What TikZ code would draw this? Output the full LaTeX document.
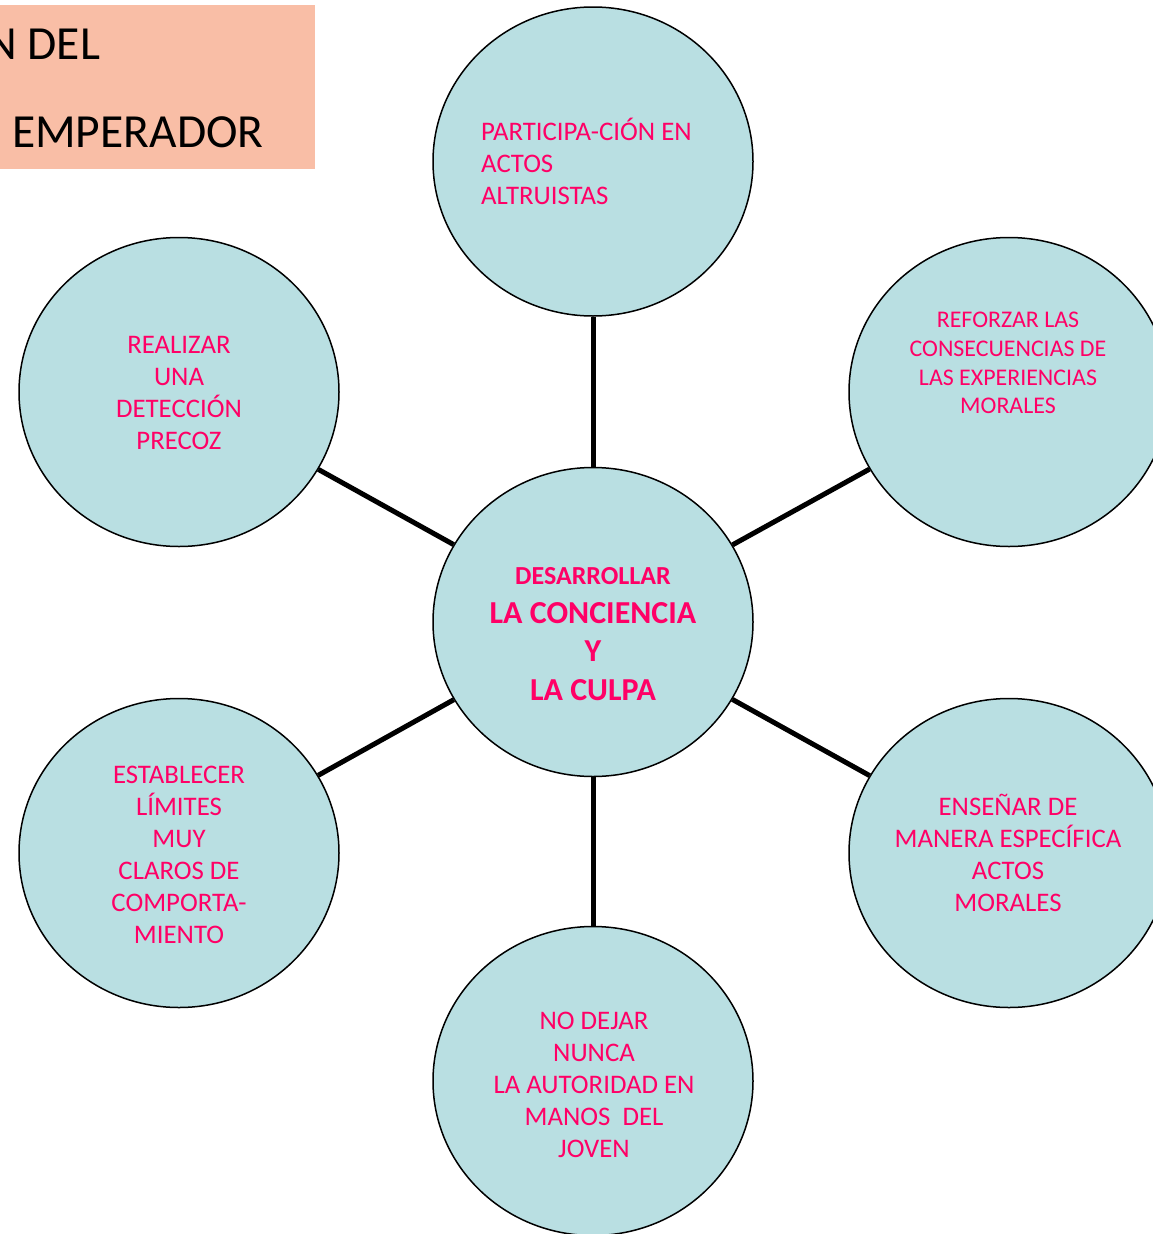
\documentclass[tikz,border=0pt]{standalone}
\usepackage{fontspec}
\setmainfont{Carlito}
\usetikzlibrary{shapes.geometric}
\definecolor{bubble}{RGB}{185,223,226}
\definecolor{txtpink}{RGB}{255,0,102}
\definecolor{titlebg}{RGB}{249,190,166}
\tikzset{
  bubble/.style={ellipse, draw=black, line width=1.5pt, fill=bubble, minimum width=320pt, minimum height=309pt, inner sep=0pt},
  link/.style={line width=5pt, black},
  btext/.style={text=txtpink, inner sep=0pt, align=center, font=\fontsize{26.8}{32}\selectfont},
  ttext/.style={text=black, inner sep=0pt, font=\fontsize{47.5}{56}\selectfont}
}
\begin{document}
\begin{tikzpicture}[x=1pt,y=-1pt]
\clip (0,0) rectangle (1153,1234);
\fill[white] (0,0) rectangle (1153,1234);
% title box
\begin{scope}
\fill[titlebg] (0,5) rectangle (315,169);
\clip (0,5) rectangle (315,169);
\node[ttext, anchor=base west] (title1) at (-14,59) {N DEL};
\node[ttext, anchor=base west] (title2) at (12,147) {EMPERADOR};
\end{scope}
% bubbles
\node[bubble] (cc) at (593,622) {};
\node[bubble] (ct) at (593,161.5) {};
\node[bubble] (ctl) at (179,392) {};
\node[bubble] (ctr) at (1009,392) {};
\node[bubble] (cbl) at (179,853) {};
\node[bubble] (cbr) at (1009,853) {};
\node[bubble] (cb) at (593,1081) {};
% links
\draw[link] (cc) -- (ct);
\draw[link] (cc) -- (ctl);
\draw[link] (cc) -- (ctr);
\draw[link] (cc) -- (cbl);
\draw[link] (cc) -- (cbr);
\draw[link] (cc) -- (cb);
% texts
\node[btext, font=\bfseries\fontsize{32}{38.5}\selectfont] (tcc) at (593,634) {{\fontsize{26}{28}\selectfont DESARROLLAR}\\LA CONCIENCIA\\Y\\LA CULPA};
\node[btext, align=left, anchor=west] (tct) at (481,161) {PARTICIPA-CIÓN EN\\ACTOS\\ALTRUISTAS};
\node[btext] (tctl) at (179,393) {REALIZAR\\UNA\\DETECCIÓN\\PRECOZ};
\node[btext, font=\fontsize{23.9}{28.7}\selectfont] (tctr) at (1008,363) {REFORZAR LAS\\CONSECUENCIAS DE\\LAS EXPERIENCIAS\\MORALES};
\node[btext] (tcbl) at (179,855) {ESTABLECER\\LÍMITES\\MUY\\CLAROS DE\\COMPORTA-\\MIENTO};
\node[btext] (tcbr) at (1008,853) {ENSEÑAR DE\\MANERA ESPECÍFICA\\ACTOS\\MORALES};
\node[btext] (tcb) at (594,1085) {NO DEJAR\\NUNCA\\LA AUTORIDAD EN\\MANOS\ \ DEL\\JOVEN};
\end{tikzpicture}
\end{document}
